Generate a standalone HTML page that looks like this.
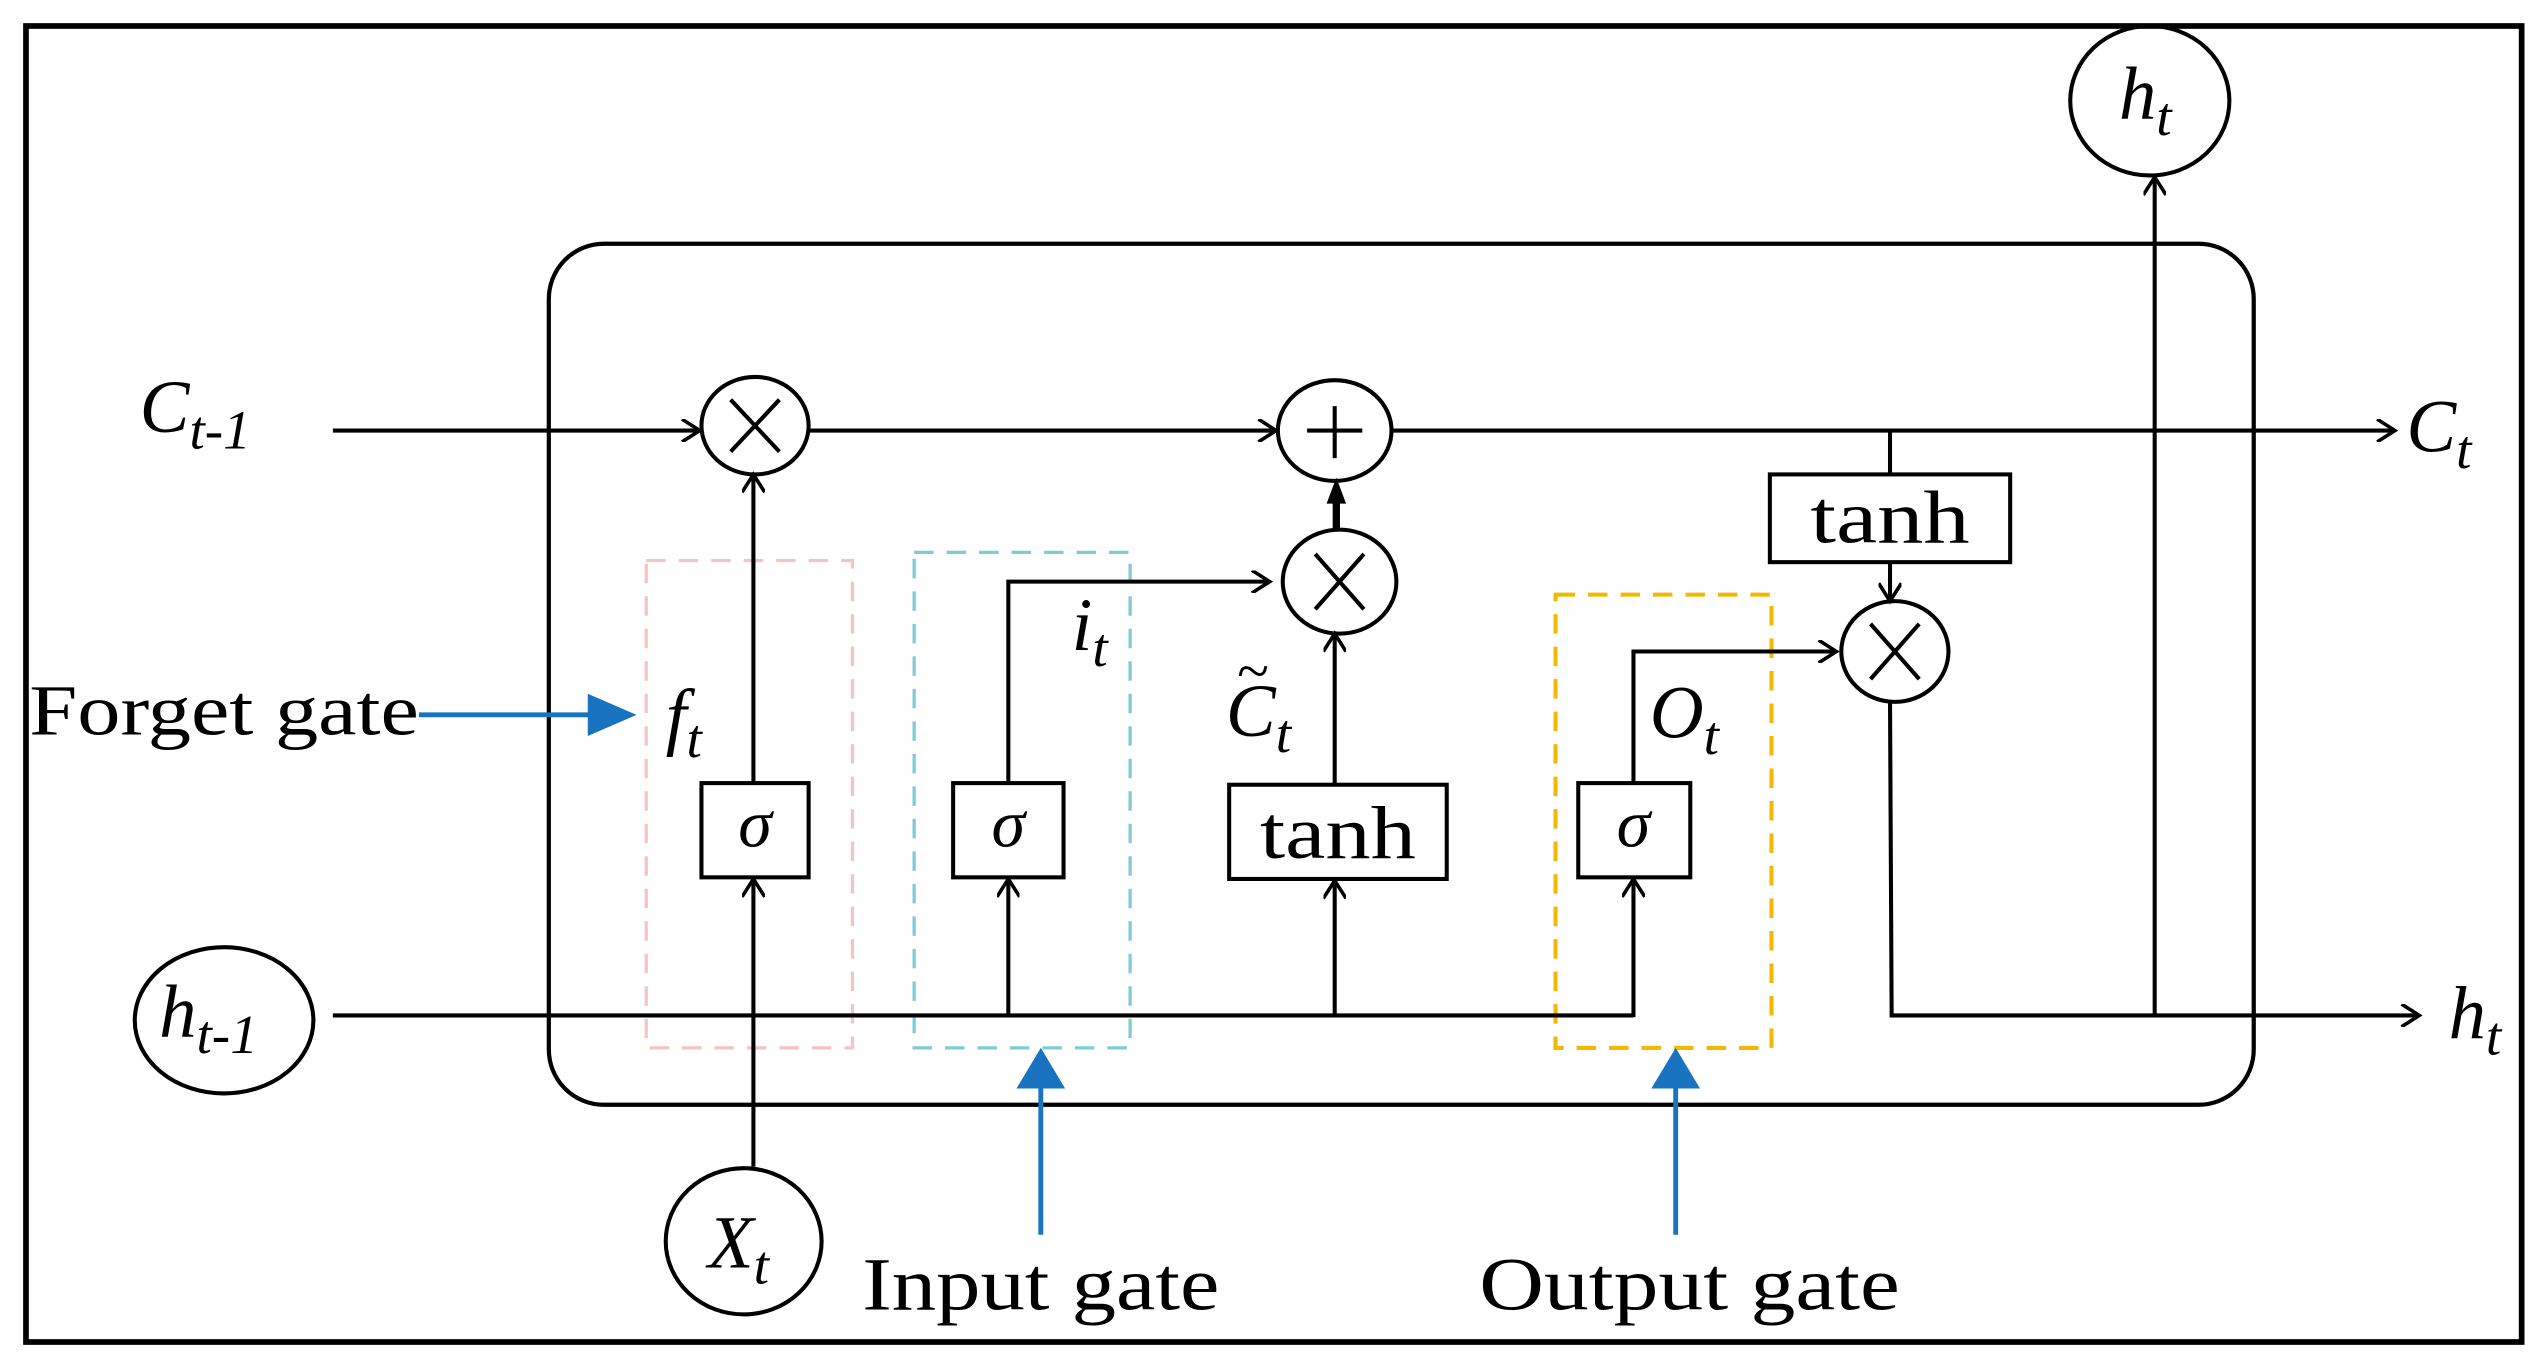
<!DOCTYPE html>
<html><head><meta charset="utf-8"><style>
html,body{margin:0;padding:0;background:#fff;}
svg{display:block;}
text{font-family:"Liberation Serif",serif;fill:#000;}
.i{font-style:italic;}
</style></head><body>
<svg width="2546" height="1368" viewBox="0 0 1568 842" preserveAspectRatio="none" xmlns="http://www.w3.org/2000/svg">
<defs>
<marker id="oa" markerWidth="14" markerHeight="14" refX="12" refY="7" orient="auto" markerUnits="userSpaceOnUse"><path d="M1,0 L12,7 L1,14" fill="none" stroke="#000" stroke-width="2.2"/></marker>
</defs>
<rect x="16" y="16" width="1537" height="810" fill="none" stroke="#000" stroke-width="3.5"/>
<rect x="338" y="150" width="1050" height="530" rx="34" fill="none" stroke="#000" stroke-width="2.6"/>
<rect x="398" y="345" width="127" height="300" fill="none" stroke="#f4c4c4" stroke-width="2" stroke-dasharray="12,8"/>
<rect x="563" y="340" width="133" height="305" fill="none" stroke="#7fcbd6" stroke-width="2" stroke-dasharray="12,8"/>
<rect x="958" y="366" width="133" height="279" fill="none" stroke="#f5b800" stroke-width="2.5" stroke-dasharray="12,8"/>
<g fill="none" stroke="#000" stroke-width="2.5">
<line x1="205" y1="265" x2="431" y2="265" marker-end="url(#oa)"/>
<line x1="498" y1="265" x2="786" y2="265" marker-end="url(#oa)"/>
<line x1="858" y1="265" x2="1475" y2="265" marker-end="url(#oa)"/>
<line x1="1164" y1="265" x2="1164" y2="292"/>
<line x1="1164" y1="346" x2="1164" y2="370" marker-end="url(#oa)"/>
<line x1="205" y1="625" x2="1006" y2="625"/>
<line x1="1006" y1="626" x2="1006" y2="541" marker-end="url(#oa)"/>
<line x1="464" y1="718" x2="464" y2="541" marker-end="url(#oa)"/>
<line x1="464" y1="482" x2="464" y2="292" marker-end="url(#oa)"/>
<line x1="621" y1="625" x2="621" y2="541" marker-end="url(#oa)"/>
<polyline points="621,482 621,358 782,358" marker-end="url(#oa)"/>
<line x1="822" y1="625" x2="822" y2="542" marker-end="url(#oa)"/>
<line x1="822" y1="483" x2="822" y2="390" marker-end="url(#oa)"/>
<polyline points="1006,482 1006,401 1131,401" marker-end="url(#oa)"/>
<polyline points="1164,431 1165,625 1490,625" marker-end="url(#oa)" />
<line x1="1327" y1="625" x2="1327" y2="109" marker-end="url(#oa)"/>
<rect x="432" y="482" width="66" height="58"/>
<rect x="587" y="482" width="68" height="58"/>
<rect x="757" y="483" width="134" height="58"/>
<rect x="972" y="482" width="69" height="58"/>
<rect x="1090" y="292" width="148" height="54"/>
<ellipse cx="465" cy="262" rx="33" ry="30"/>
<line x1="450" y1="246" x2="480" y2="278"/><line x1="480" y1="246" x2="450" y2="278"/>
<ellipse cx="822" cy="265" rx="35" ry="31"/>
<line x1="805" y1="265" x2="839" y2="265"/><line x1="822" y1="250" x2="822" y2="282"/>
<ellipse cx="825" cy="358" rx="35" ry="32"/>
<line x1="810" y1="341" x2="840" y2="375"/><line x1="840" y1="341" x2="810" y2="375"/>
<ellipse cx="1167" cy="401" rx="33" ry="31"/>
<line x1="1152" y1="384" x2="1182" y2="418"/><line x1="1182" y1="384" x2="1152" y2="418"/>
<ellipse cx="1324" cy="62" rx="49" ry="46"/>
<ellipse cx="458" cy="764" rx="48" ry="45"/>
<ellipse cx="138" cy="628" rx="55" ry="45"/>
</g>
<line x1="823" y1="326" x2="823" y2="308" stroke="#000" stroke-width="4.5"/>
<polygon points="817,310 829,310 823,294" fill="#000"/>
<line x1="258" y1="440" x2="368" y2="440" stroke="#1a73c0" stroke-width="3"/>
<polygon points="362,427 392,440 362,453" fill="#1a73c0"/>
<line x1="641" y1="760" x2="641" y2="668" stroke="#1a73c0" stroke-width="3"/>
<polygon points="626,670 641,645 656,670" fill="#1a73c0"/>
<line x1="1032" y1="760" x2="1032" y2="668" stroke="#1a73c0" stroke-width="3"/>
<polygon points="1017,670 1032,645 1047,670" fill="#1a73c0"/>
<text x="86" y="266" font-size="46" class="i">C<tspan font-size="34" dy="10">t-1</tspan></text>
<text x="1482" y="278" font-size="46" class="i">C<tspan font-size="34" dy="10">t</tspan></text>
<text x="1508" y="639" font-size="46" class="i">h<tspan font-size="34" dy="10">t</tspan></text>
<text x="1305" y="73" font-size="46" class="i">h<tspan font-size="34" dy="10">t</tspan></text>
<text x="98" y="638" font-size="46" class="i">h<tspan font-size="34" dy="10">t-1</tspan></text>
<text x="436" y="780" font-size="46" class="i">X<tspan font-size="34" dy="10">t</tspan></text>
<text x="410" y="456" font-size="46" class="i">f<tspan font-size="34" dy="10">t</tspan></text>
<text x="660" y="400" font-size="46" class="i">i<tspan font-size="34" dy="10">t</tspan></text>
<text x="755" y="453" font-size="46" class="i">C<tspan font-size="34" dy="10">t</tspan></text>
<text x="762" y="425" font-size="36">~</text>
<text x="1016" y="454" font-size="46" class="i">O<tspan font-size="34" dy="10">t</tspan></text>
<text x="465" y="521" font-size="42" class="i" text-anchor="middle">σ</text>
<text x="621" y="521" font-size="42" class="i" text-anchor="middle">σ</text>
<text x="1006" y="521" font-size="42" class="i" text-anchor="middle">σ</text>
<text x="776" y="528" font-size="46" textLength="96" lengthAdjust="spacingAndGlyphs">tanh</text>
<text x="1115" y="334" font-size="46" textLength="98" lengthAdjust="spacingAndGlyphs">tanh</text>
<text x="18" y="452" font-size="44" textLength="240" lengthAdjust="spacingAndGlyphs">Forget gate</text>
<text x="531" y="806" font-size="46" textLength="220" lengthAdjust="spacingAndGlyphs">Input gate</text>
<text x="911" y="806" font-size="46" textLength="259" lengthAdjust="spacingAndGlyphs">Output gate</text>
</svg>
</body></html>
